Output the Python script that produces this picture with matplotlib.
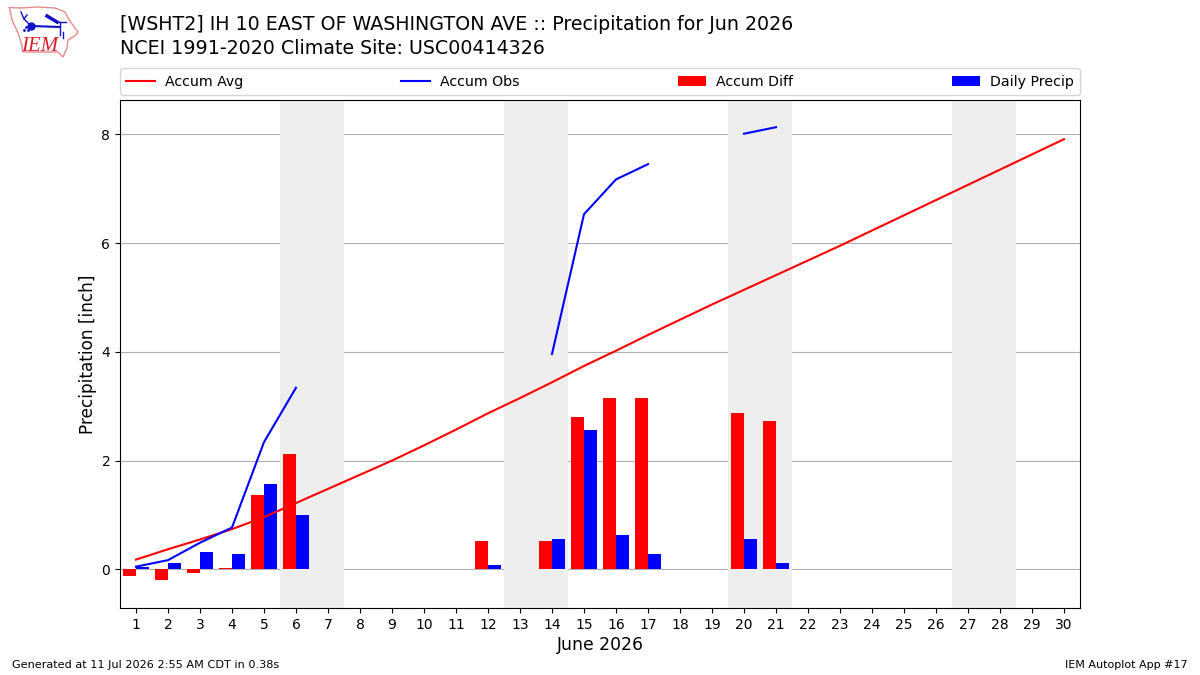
import matplotlib
matplotlib.use("Agg")
import matplotlib.pyplot as plt
import numpy as np

days = np.arange(1, 31)
day_labels = [str(d) for d in days]

accum_avg = [0.18, 0.37, 0.55, 0.74, 0.96, 1.22, 1.48, 1.74, 2.00, 2.28,
             2.57, 2.87, 3.15, 3.44, 3.74, 4.02, 4.31, 4.59, 4.87, 5.14,
             5.41, 5.68, 5.95, 6.23, 6.51, 6.79, 7.07, 7.35, 7.63, 7.91]

# missing days are left as nan so the line breaks
accum_obs = [0.05, 0.17, 0.49, 0.77, 2.34, 3.34, None, None, None, None,
             None, None, None, 3.96, 6.53, 7.17, 7.45, None, None, 8.01,
             8.13, None, None, None, None, None, None, None, None, None]

accum_diff = [-0.13, -0.20, -0.07, 0.03, 1.37, 2.12, 0, 0, 0, 0,
              0, 0.53, 0, 0.53, 2.80, 3.15, 3.15, 0, 0, 2.87,
              2.73, 0, 0, 0, 0, 0, 0, 0, 0, 0]

daily_precip = [0.05, 0.12, 0.32, 0.29, 1.57, 1.00, 0, 0, 0, 0,
                0, 0.08, 0, 0.56, 2.57, 0.64, 0.29, 0, 0, 0.56,
                0.12, 0, 0, 0, 0, 0, 0, 0, 0, 0]

weekends = [(6, 7), (13, 14), (20, 21), (27, 28)]

title_lines = ["[WSHT2] IH 10 EAST OF WASHINGTON AVE :: Precipitation for Jun 2026",
               "NCEI 1991-2020 Climate Site: USC00414326"]

# rough Iowa outline for the logo, in logo pixels
iowa_x = [9.5, 20, 38, 55, 65, 68, 72, 78, 76, 68, 67, 63, 58, 23, 21, 18, 12, 9.5]
iowa_y = [7.5, 8, 7, 8, 12, 18, 24, 32, 35, 40, 48, 57, 52, 52, 42, 33, 20, 7.5]


def draw_logo(fig):
    ax = fig.add_axes([0, 1 - 60 / 675, 85 / 1200, 60 / 675])
    ax.set_xlim(0, 85)
    ax.set_ylim(60, 0)
    ax.axis("off")
    ax.plot(iowa_x, iowa_y, color="#e88a8a", lw=1)
    ax.text(21, 56, "IEM", color="#d8202a", fontsize=15, style="italic",
            family="Liberation Serif", va="bottom")
    # station model
    ax.plot([31, 60], [26, 27], color="#1010c8", lw=1.5)
    ax.plot([31], [26], "o", color="#1010c8", ms=5)
    ax.plot([21, 24, 31], [12, 19, 26], color="#1010c8", lw=1)
    ax.plot([24, 27], [19, 15], color="#1010c8", lw=1)
    ax.plot([47, 57], [16, 22], color="#1010c8", lw=2.5)
    ax.plot([57, 66], [22, 22], color="#1010c8", lw=1)
    ax.plot([60, 60], [22, 35], color="#1010c8", lw=1)
    ax.plot([63, 63], [32, 38], color="#1010c8", lw=1)
    ax.plot([24, 26, 28], [30, 27, 30], ".", color="#1010c8", ms=2)


fig = plt.figure(figsize=(12, 6.75), dpi=100)
ax = fig.add_axes([120 / 1200, 1 - 608 / 675, 960 / 1200, 508 / 675])

for start, end in weekends:
    ax.axvspan(start - 0.5, end + 0.5, color="#eeeeee", lw=0, zorder=1)

ax.bar(days - 0.2, accum_diff, width=0.4, color="r", label="Accum Diff", zorder=3)
ax.bar(days + 0.2, daily_precip, width=0.4, color="b", label="Daily Precip", zorder=3)
ax.plot(days, accum_avg, color="r", lw=1.5, label="Accum Avg", zorder=4)
obs = np.array(accum_obs, dtype=float)
ax.plot(days, obs, color="b", lw=1.5, label="Accum Obs", zorder=4)

ax.set_xlim(0.5, 30.5)
ax.set_ylim(-0.71, 8.63)
ax.set_xticks(days)
ax.set_xticklabels(day_labels)
ax.set_yticks([0, 2, 4, 6, 8])
ax.yaxis.grid(True, color="#b0b0b0", lw=0.8, zorder=2)
ax.set_axisbelow(True)
ax.tick_params(labelsize=10)
ax.set_xlabel("June 2026", fontsize=12.4, labelpad=3)
ax.set_ylabel("Precipitation [inch]", fontsize=12.2, labelpad=3)

handles, labels = ax.get_legend_handles_labels()
order = [labels.index(n) for n in ["Accum Avg", "Accum Obs", "Accum Diff", "Daily Precip"]]
ax.legend([handles[i] for i in order], [labels[i] for i in order], ncol=4, mode="expand",
          loc="lower left", bbox_to_anchor=(0, 1.0098, 1, 0.05), borderaxespad=0,
          fontsize=10.2, borderpad=0.45, handletextpad=0.7)

fig.text(120 / 1200, 1 - 25 / 675, title_lines[0], fontsize=13.65, va="center")
fig.text(120 / 1200, 1 - 48 / 675, title_lines[1], fontsize=13.65, va="center")
fig.text(12 / 1200, 1 - 665 / 675, "Generated at 11 Jul 2026 2:55 AM CDT in 0.38s", fontsize=8.1, va="center")
fig.text(1188 / 1200, 1 - 665 / 675, "IEM Autoplot App #17", fontsize=8, va="center", ha="right")

draw_logo(fig)

fig.savefig("out.png", dpi=100)
